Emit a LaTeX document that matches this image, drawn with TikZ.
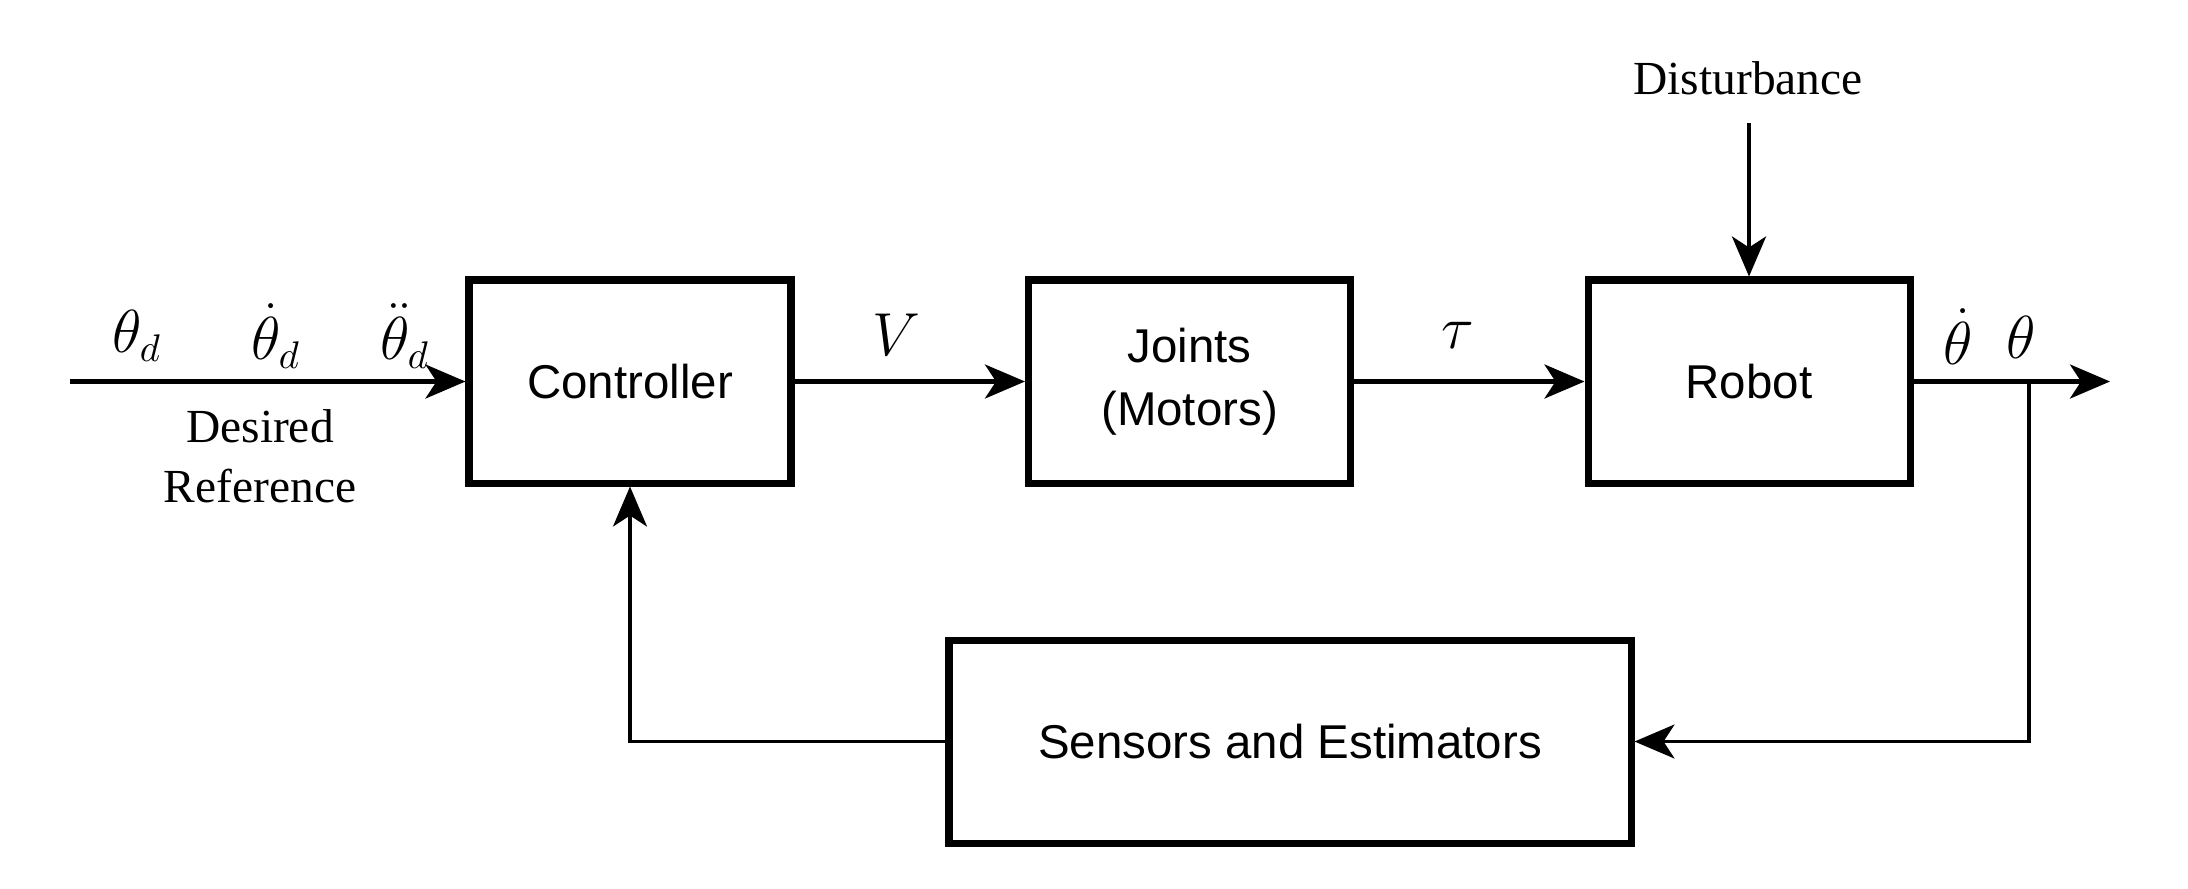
\documentclass[tikz,border=0pt]{standalone}
\usepackage{fontspec}
\setmainfont{Liberation Serif}
\newfontfamily\boxfont{Liberation Sans}
\usetikzlibrary{arrows.meta,calc}
\begin{document}
\begin{tikzpicture}[x=1cm,y=1cm,
  blk/.style={draw, line width=2pt, minimum width=3.22cm, minimum height=2.03cm, align=center, font=\boxfont\fontsize{13.5}{17}\selectfont, inner sep=0pt},
  sig/.style={line width=1.2pt, -{Stealth[length=0.4cm,width=0.34cm,inset=0.11cm]}},
  fb/.style={line width=0.9pt, -{Stealth[length=0.4cm,width=0.34cm,inset=0.11cm]}},
  lbl/.style={font=\fontsize{16}{19}\selectfont, inner sep=0pt},
  txt/.style={font=\fontsize{13.5}{16}\selectfont, inner sep=0pt}]
\useasboundingbox (0,0) rectangle (21.88,-8.88);
\node[blk] (ctrl) at (6.30,-3.815) {Controller};
\node[blk] (joints) at (11.895,-3.815) {\raisebox{-3pt}{Joints}\\[1pt]\raisebox{-3pt}{(Motors)}};
\node[blk] (robot) at (17.49,-3.815) {Robot};
\node[blk, minimum width=6.82cm] (sens) at (12.90,-7.415) {Sensors and Estimators};
\coordinate (in) at (0.70,-3.815);
\coordinate (out) at (21.10,-3.815);
\coordinate (br) at (20.29,-3.815);
\coordinate (brd) at (20.29,-7.415);
\coordinate (dist) at (17.49,-1.23);
\draw[sig] (in) -- (ctrl.west);
\draw[sig] (ctrl.east) -- (joints.west);
\draw[sig] (joints.east) -- (robot.west);
\draw[sig] (robot.east) -- (out);
\draw[sig] (dist) -- (robot.north);
\draw[fb] (br) -- (brd) -- (sens.east);
\draw[fb] (sens.west) -| (ctrl.south);
\node[lbl] (l1) at (1.37,-3.36) {$\theta_d$};
\node[lbl] (l2) at (2.76,-3.36) {$\dot\theta_d$};
\node[lbl] (l3) at (4.05,-3.36) {$\ddot\theta_d$};
\node[txt] (d1) at (2.60,-4.26) {Desired};
\node[txt] (d2) at (2.60,-4.86) {Reference};
\node[lbl] (lv) at (8.96,-3.35) {$V$};
\node[lbl] (lt) at (14.58,-3.35) {$\tau$};
\node[lbl] (lo1) at (19.58,-3.37) {$\dot\theta$};
\node[lbl] (lo2) at (20.21,-3.37) {$\theta$};
\node[txt] (dt) at (17.48,-0.78) {Disturbance};
\end{tikzpicture}
\end{document}
